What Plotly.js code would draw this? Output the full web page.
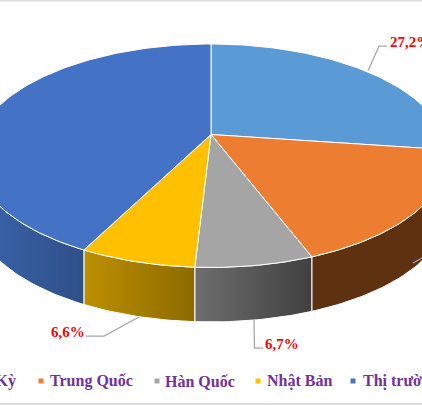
<!DOCTYPE html>
<html>
<head>
<meta charset="utf-8">
<script src="https://cdn.plot.ly/plotly-3.0.1.min.js"></script>
<style>html,body{margin:0;padding:0;background:#fff;overflow:hidden}#c{width:422px;height:405px}</style>
</head>
<body>
<div id="c"></div>
<script>
const categories = ["Hoa Kỳ", "Trung Quốc", "Hàn Quốc", "Nhật Bản", "Thị trường khác"];
const shares = [27.2, 17.0, 6.7, 6.6, 42.5];
const topColors = ["#5b9bd5", "#ed7d31", "#a5a5a5", "#ffc000", "#4472c4"];
const sideLeft = ["#3a6f9f", "#5e3110", "#6e6e6e", "#bd8f00", "#3a64ab"];
const sideRight = ["#2f5f8c", "#5e3110", "#404040", "#8c6a00", "#2f5088"];
const legendEnd = [18, 135, 237, 334];
const legendLastStart = 361;
const markerX = [41, 157, 258, 353];

const cx = 211, cy = 134.5, A = 232.6, B = 107.7, P = 0.19, DEPTH = 54.5;
function project(deg) {
  const t = deg * Math.PI / 180, X = Math.sin(t), Y = -Math.cos(t), w = 1 - P * Y;
  return [cx + A * X / w, cy + B * Y / w];
}
function arc(a, b) {
  const pts = [], n = Math.max(4, Math.ceil(Math.abs(b - a)));
  for (let i = 0; i <= n; i++) pts.push(project(a + (b - a) * i / n));
  return pts;
}
const traces = [];
const total = shares.reduce((s, v) => s + v, 0);
let edges = [0];
shares.forEach(v => edges.push(edges[edges.length - 1] + v / total * 360));

// side walls
shares.forEach((v, i) => {
  const a = Math.max(edges[i], 90), b = Math.min(edges[i + 1], 270);
  if (b <= a) return;
  const pts = arc(a, b);
  const poly = pts.concat(pts.slice().reverse().map(p => [p[0], p[1] + DEPTH]));
  poly.push(poly[0]);
  traces.push({
    type: "scatter", mode: "lines", hoverinfo: "skip", showlegend: false,
    x: poly.map(p => p[0]), y: poly.map(p => p[1]),
    line: {color: "#ffffff", width: 1}, fill: "toself",
    fillgradient: {type: "horizontal", colorscale: [[0, sideLeft[i]], [1, sideRight[i]]]}
  });
});
// top wedges
shares.forEach((v, i) => {
  const pts = [[cx, cy]].concat(arc(edges[i], edges[i + 1]));
  pts.push([cx, cy]);
  traces.push({
    type: "scatter", mode: "lines", hoverinfo: "skip", showlegend: false,
    x: pts.map(p => p[0]), y: pts.map(p => p[1]),
    line: {color: "#ffffff", width: 1}, fill: "toself", fillcolor: topColors[i]
  });
});
// leader lines
[[[368, 71], [379, 46], [387, 46]],
 [[139, 317], [104, 336], [86, 336]],
 [[254, 320], [254.5, 348], [263, 348]],
 [[413, 263], [422, 258]]].forEach(l => traces.push({
  type: "scatter", mode: "lines", hoverinfo: "skip", showlegend: false,
  x: l.map(p => p[0]), y: l.map(p => p[1]),
  line: {color: "#a6a6a6", width: 1.25}
}));
// legend markers
traces.push({
  type: "scatter", mode: "markers", hoverinfo: "skip", showlegend: false,
  x: markerX, y: markerX.map(() => 381),
  marker: {symbol: "square", size: 5, color: topColors.slice(1)}
});

const pct = v => v.toFixed(1).replace(".", ",") + "%";
const serif = "Liberation Serif, serif";
const labelFont = {family: serif, size: 15, color: "#ff0000"};
const annotations = [
  {x: 388, y: 42, text: "<b>" + pct(shares[0]) + "</b>"},
  {x: 263, y: 344, text: "<b>" + pct(shares[2]) + "</b>"},
  {x: 49, y: 332, text: "<b>" + pct(shares[3]) + "</b>"}
].map(a => ({...a, xref: "x", yref: "y", xanchor: "left", yanchor: "middle", showarrow: false, font: labelFont}));
categories.forEach((c, i) => {
  const last = i === categories.length - 1;
  annotations.push({
    x: last ? legendLastStart : legendEnd[i], y: 381, xref: "x", yref: "y",
    xanchor: last ? "left" : "right", yanchor: "middle",
    showarrow: false, text: "<b>" + c + "</b>",
    font: {family: serif, size: 16, color: "#7030a0"}
  });
});

Plotly.newPlot("c", traces, {
  width: 422, height: 405,
  margin: {l: 0, r: 0, t: 0, b: 0},
  paper_bgcolor: "#ffffff", plot_bgcolor: "#ffffff",
  showlegend: false,
  xaxis: {range: [0, 422], visible: false, fixedrange: true},
  yaxis: {range: [405, 0], visible: false, fixedrange: true},
  annotations,
  shapes: [
    {type: "rect", xref: "x", yref: "y", x0: 0, x1: 422, y0: 0, y1: 1.5, fillcolor: "#dedede", line: {width: 0}},
    {type: "rect", xref: "x", yref: "y", x0: 0, x1: 422, y0: 403, y1: 405, fillcolor: "#dedede", line: {width: 0}}
  ]
}, {displayModeBar: false, staticPlot: true});
</script>
</body>
</html>
